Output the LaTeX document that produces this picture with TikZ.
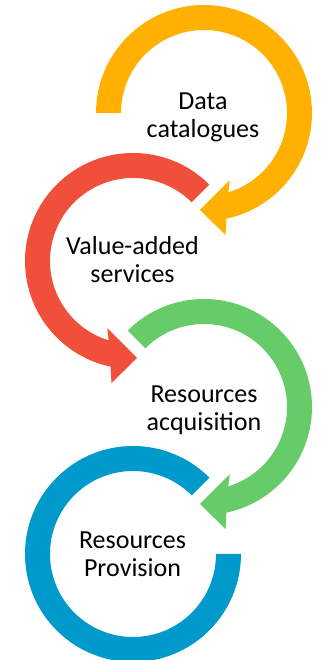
\documentclass[tikz,border=0pt]{standalone}
\usepackage{fontspec}
\setmainfont{Carlito}
\definecolor{cyellow}{HTML}{FFB000}
\definecolor{cred}{HTML}{F0503A}
\definecolor{cgreen}{HTML}{66CC6A}
\definecolor{cblue}{HTML}{0099CC}
\begin{document}
\begin{tikzpicture}[x=1pt,y=1pt,
  lbl/.style={font=\fontsize{26}{28}\selectfont, align=center, text=black, inner sep=0pt}]
\useasboundingbox (0,0) rectangle (326,660);
\coordinate (cy) at (204,547);
\coordinate (cr) at (133,399);
\coordinate (cg) at (204,253);
\coordinate (cb) at (133,106);
% yellow: clockwise from 180 with arrowhead
\fill[cyellow] ([shift={(180:108pt)}]cy) arc[start angle=180, end angle=-78, radius=108pt]
  -- ([shift={(-80:124pt)}]cy) -- ([shift={(-92.4:97pt)}]cy) -- ([shift={(-69:72pt)}]cy)
  -- ([shift={(-73:83pt)}]cy) arc[start angle=-73, end angle=180, radius=83pt] -- cycle;
% red: counter-clockwise from 45 with arrowhead
\fill[cred] ([shift={(45:108pt)}]cr) arc[start angle=45, end angle=258, radius=108pt]
  -- ([shift={(260:124pt)}]cr) -- ([shift={(272.4:97pt)}]cr) -- ([shift={(249:72pt)}]cr)
  -- ([shift={(253:83pt)}]cr) arc[start angle=253, end angle=45, radius=83pt] -- cycle;
% green: clockwise from 135 with arrowhead
\fill[cgreen] ([shift={(135:108pt)}]cg) arc[start angle=135, end angle=-78, radius=108pt]
  -- ([shift={(-80:124pt)}]cg) -- ([shift={(-92.4:97pt)}]cg) -- ([shift={(-69:72pt)}]cg)
  -- ([shift={(-73:83pt)}]cg) arc[start angle=-73, end angle=135, radius=83pt] -- cycle;
% blue: counter-clockwise from 45 to 360, no head
\fill[cblue] ([shift={(45:108pt)}]cb) arc[start angle=45, end angle=360, radius=108pt]
  -- ([shift={(0:83pt)}]cb) arc[start angle=360, end angle=45, radius=83pt] -- cycle;
\node[lbl] (ty) at (203,542.6) {Data\\catalogues};
\node[lbl] (tr) at (132.5,400) {Value-added\\services};
\node[lbl] (tg) at (204,249.6) {Resources\\acquisition};
\node[lbl] (tb) at (132.5,105.3) {Resources\\Provision};
\end{tikzpicture}
\end{document}
